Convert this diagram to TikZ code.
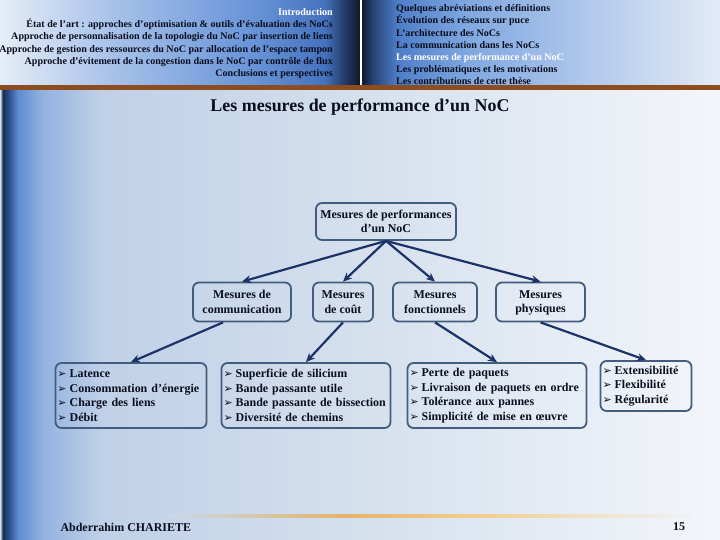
\documentclass[tikz,border=0pt]{standalone}
\usepackage{fontspec}
\setmainfont{Liberation Serif}
\newfontfamily\dejavu{DejaVu Sans}
\usepackage{xcolor}
\usepackage{tikz}
\usetikzlibrary{positioning,calc,arrows.meta}

\definecolor{boxc}{HTML}{435D7E}
\definecolor{arrc}{HTML}{1B3368}
\definecolor{txtc}{HTML}{0A0E1E}
\definecolor{barc}{HTML}{8E4D1F}
\definecolor{ha}{HTML}{E6EDF7}\definecolor{hb}{HTML}{A9C3EA}\definecolor{hc}{HTML}{6994D8}
\definecolor{hd}{HTML}{4572BD}\definecolor{he}{HTML}{25406E}\definecolor{hf}{HTML}{0C1527}
\definecolor{ra}{HTML}{233F70}\definecolor{rb}{HTML}{4E7DC8}\definecolor{rc}{HTML}{81A8E0}
\definecolor{rd}{HTML}{B3CAEC}\definecolor{re}{HTML}{E3EBF7}
\definecolor{ba}{HTML}{DCE6F2}\definecolor{bb}{HTML}{1A2C50}\definecolor{bc}{HTML}{2C4F8E}
\definecolor{bd}{HTML}{5E8DD2}\definecolor{be}{HTML}{93B3E0}\definecolor{bf}{HTML}{BFD0E8}
\definecolor{bg}{HTML}{D5E0ED}\definecolor{bh}{HTML}{F3F6FA}
\definecolor{oa}{HTML}{C9D8EA}\definecolor{ob}{HTML}{E6B36A}\definecolor{oc}{HTML}{F2CF90}
\definecolor{od}{HTML}{EEF2F7}

\pgfdeclarehorizontalshading{hdrleft}{100bp}{color(0bp)=(ha); color(25bp)=(ha);
 color(40bp)=(hb); color(60bp)=(hc); color(70bp)=(hd); color(72.5bp)=(he);
 color(75bp)=(hf); color(100bp)=(hf)}
\pgfdeclarehorizontalshading{hdrright}{100bp}{color(0bp)=(hf); color(25bp)=(hf);
 color(26.5bp)=(ra); color(30bp)=(rb); color(40bp)=(rc); color(57.5bp)=(rd);
 color(75bp)=(re); color(100bp)=(re)}
\pgfdeclarehorizontalshading{fond}{100bp}{color(0bp)=(ba); color(25bp)=(ba);
 color(25.2bp)=(bb); color(25.6bp)=(bc); color(26.25bp)=(bd); color(28bp)=(be);
 color(32bp)=(bf); color(50bp)=(bg); color(75bp)=(bh); color(100bp)=(bh)}
\pgfdeclarehorizontalshading{trait}{100bp}{color(0bp)=(oa); color(25bp)=(oa);
 color(42bp)=(ob); color(55bp)=(oc); color(75bp)=(od); color(100bp)=(od)}

\newcommand{\puce}{{\dejavu\fontsize{11}{11}\selectfont ➢}\hspace{3bp}}

\begin{document}
\begin{tikzpicture}[x=1bp,y=-1bp,text=txtc,
 font=\bfseries\fontsize{12}{14.5}\selectfont,
 e/.style={draw=boxc,line width=1.8bp,rounded corners=6bp,inner sep=1bp,align=center},
 cat/.style={e,minimum height=39bp},
 lst/.style={e,align=left,inner xsep=2bp,minimum height=65bp},
 fl/.style={draw=arrc,line width=2.2bp,-{Stealth[length=9bp,width=8bp]}},
 hdr/.style={font=\bfseries\fontsize{10.1}{12.2}\selectfont,inner sep=0pt}]
\useasboundingbox (0,0) rectangle (720,540);
\shade[shading=fond] (0,85) rectangle (720,540);
\shade[shading=hdrleft] (0,0) rectangle (361,85);
\shade[shading=hdrright] (361,0) rectangle (720,85);
\draw[white,line width=1.2bp] (361,0) -- (361,85);
\fill[barc] (0,85) rectangle (720,90);
\shade[shading=trait] (170,514) rectangle (690,517);

\node[hdr,anchor=north east,align=right] (plan1) at (333,8.5)
 {\textcolor{white}{Introduction}\\
  État de l'art : approches d'optimisation \& outils d'évaluation des NoCs\\
  Approche de personnalisation de la topologie du NoC par insertion de liens\\
  Approche de gestion des ressources du NoC par allocation de l'espace tampon\\
  Approche d'évitement de la congestion dans le NoC par contrôle de flux\\
  Conclusions et perspectives};
\node[hdr,anchor=north west,align=left] (plan2) at (396,4.5)
 {Quelques abréviations et définitions\\
  Évolution des réseaux sur puce\\
  L'architecture des NoCs\\
  La communication dans les NoCs\\
  \textcolor{white}{Les mesures de performance d'un NoC}\\
  Les problématiques et les motivations\\
  Les contributions de cette thèse};
\node[font=\bfseries\fontsize{18}{20}\selectfont] (titre) at (360,107) {Les mesures de performance d’un NoC};

\node[cat,minimum width=140bp,minimum height=37bp] (root) at (386,221.5) {Mesures de performances\\d’un NoC};
\node[cat,minimum width=98bp] (comm) at (242,302) {Mesures de\\communication};
\node[cat,minimum width=60bp] (cout) at (343,302) {Mesures\\de coût};
\node[cat,minimum width=84bp] (fonc) at (435,302) {Mesures\\fonctionnels};
\node[cat,minimum width=89bp] (phys) at (540.5,302) {\strut Mesures\\physiques};

\node[lst,text width=147bp] (lcomm) at (131,395.5)
 {\puce Latence\\\puce Consommation d’énergie\\\puce Charge des liens\\\puce Débit};
\node[lst,text width=165bp] (lcout) at (306,395.5)
 {\puce Superficie de silicium\\\puce Bande passante utile\\\puce Bande passante de bissection\\\puce Diversité de chemins};
\node[lst,text width=175bp] (lfonc) at (497,395.5)
 {\puce Perte de paquets\\\puce Livraison de paquets en ordre\\\puce Tolérance aux pannes\\\puce Simplicité de mise en œuvre};
\node[lst,text width=87bp,minimum height=50bp] (lphys) at (646,386)
 {\puce Extensibilité\\\puce Flexibilité\\\puce Régularité};

\draw[fl] (root.south) -- (comm.north);
\draw[fl] (root.south) -- (cout.north);
\draw[fl] (root.south) -- (fonc.north);
\draw[fl] (root.south) -- (phys.north);
\draw[fl] ($(comm.south)+(-19,0)$) -- (lcomm.north);
\draw[fl] (cout.south) -- (lcout.north);
\draw[fl] (fonc.south) -- (lfonc.north);
\draw[fl] (phys.south) -- (lphys.north);

\node[anchor=west] (auteur) at (57,527) {Abderrahim CHARIETE};
\node (page) at (679,527) {15};
\end{tikzpicture}
\end{document}
